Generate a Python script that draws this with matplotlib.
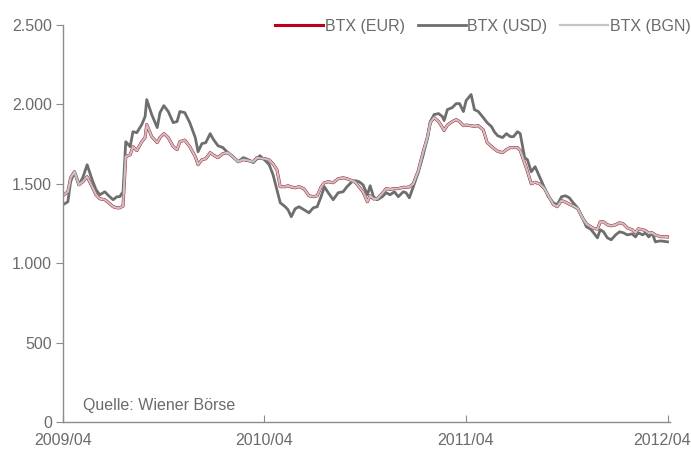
import matplotlib
matplotlib.use("Agg")
import matplotlib.pyplot as plt
import matplotlib.transforms as mtransforms
import pandas as pd

plt.rcParams['font.family'] = ['Liberation Sans', 'DejaVu Sans']

# weekly closes
dates = [
    "2009-04-01", "2009-04-10", "2009-04-15", "2009-04-22", "2009-04-30", "2009-05-07",
    "2009-05-15", "2009-05-24", "2009-05-31", "2009-06-07", "2009-06-16", "2009-06-23",
    "2009-07-01", "2009-07-08", "2009-07-13", "2009-07-19", "2009-07-24", "2009-08-01",
    "2009-08-06", "2009-08-13", "2009-08-22", "2009-08-28", "2009-08-31", "2009-09-09",
    "2009-09-19", "2009-09-24", "2009-10-01", "2009-10-09", "2009-10-18", "2009-10-25",
    "2009-10-30", "2009-11-08", "2009-11-17", "2009-11-27", "2009-12-02", "2009-12-09",
    "2009-12-16", "2009-12-24", "2009-12-29", "2010-01-07", "2010-01-16", "2010-01-25",
    "2010-02-03", "2010-02-13", "2010-02-22", "2010-03-03", "2010-03-12", "2010-03-19",
    "2010-03-24", "2010-04-03", "2010-04-10", "2010-04-17", "2010-04-24", "2010-04-30",
    "2010-05-09", "2010-05-14", "2010-05-20", "2010-05-27", "2010-06-03", "2010-06-12",
    "2010-06-21", "2010-06-29", "2010-07-06", "2010-07-13", "2010-07-19", "2010-07-26",
    "2010-08-04", "2010-08-13", "2010-08-22", "2010-08-29", "2010-09-07", "2010-09-13",
    "2010-09-20", "2010-09-27", "2010-10-05", "2010-10-10", "2010-10-16", "2010-10-23",
    "2010-11-01", "2010-11-08", "2010-11-15", "2010-11-23", "2010-11-30", "2010-12-09",
    "2010-12-14", "2010-12-20", "2010-12-27", "2011-01-05", "2011-01-14", "2011-01-22",
    "2011-01-27", "2011-02-03", "2011-02-11", "2011-02-18", "2011-02-21", "2011-02-27",
    "2011-03-08", "2011-03-15", "2011-03-21", "2011-03-28", "2011-04-02", "2011-04-11",
    "2011-04-17", "2011-04-24", "2011-05-03", "2011-05-10", "2011-05-18", "2011-05-23",
    "2011-05-29", "2011-06-07", "2011-06-14", "2011-06-21", "2011-06-27", "2011-07-04",
    "2011-07-09", "2011-07-17", "2011-07-22", "2011-07-29", "2011-08-05", "2011-08-13",
    "2011-08-22", "2011-08-29", "2011-09-07", "2011-09-14", "2011-09-22", "2011-09-29",
    "2011-10-06", "2011-10-13", "2011-10-21", "2011-10-30", "2011-11-06", "2011-11-13",
    "2011-11-19", "2011-11-26", "2011-12-01", "2011-12-07", "2011-12-14", "2011-12-21",
    "2011-12-29", "2012-01-05", "2012-01-12", "2012-01-19", "2012-01-28", "2012-02-03",
    "2012-02-08", "2012-02-16", "2012-02-21", "2012-02-27", "2012-03-04", "2012-03-10",
    "2012-03-19", "2012-04-01",
]

btx_usd = [
    1368, 1387, 1513, 1576, 1494, 1538, 1620, 1526, 1463, 1431, 1450, 1425,
    1400, 1419, 1419, 1450, 1765, 1734, 1828, 1822, 1873, 1923, 2030, 1936,
    1854, 1948, 1992, 1955, 1885, 1892, 1955, 1948, 1885, 1791, 1702, 1753,
    1759, 1816, 1784, 1740, 1728, 1696, 1671, 1639, 1665, 1652, 1633, 1658,
    1677, 1646, 1620, 1557, 1463, 1381, 1356, 1337, 1293, 1343, 1356, 1337,
    1318, 1349, 1356, 1419, 1482, 1444, 1400, 1444, 1450, 1482, 1513, 1520,
    1513, 1494, 1431, 1488, 1419, 1400, 1419, 1444, 1431, 1450, 1419, 1450,
    1444, 1412, 1480, 1570, 1680, 1790, 1892, 1936, 1942, 1923, 1898, 1967,
    1980, 2005, 2005, 1955, 2024, 2062, 1967, 1955, 1917, 1885, 1860, 1828,
    1803, 1791, 1816, 1797, 1797, 1828, 1816, 1665, 1652, 1576, 1608, 1545,
    1475, 1419, 1381, 1368, 1419, 1425, 1412, 1381, 1349, 1286, 1229, 1217,
    1192, 1160, 1211, 1198, 1160, 1148, 1179, 1198, 1192, 1179, 1185, 1166,
    1192, 1179, 1192, 1166, 1192, 1135, 1141, 1135,
]

btx_eur = [
    1425, 1450, 1538, 1576, 1494, 1513, 1545, 1482, 1431, 1406, 1400, 1381,
    1356, 1349, 1349, 1360, 1671, 1683, 1734, 1709, 1765, 1791, 1873, 1797,
    1759, 1791, 1816, 1791, 1734, 1715, 1765, 1775, 1734, 1671, 1620, 1652,
    1658, 1696, 1683, 1665, 1690, 1696, 1671, 1639, 1652, 1646, 1639, 1665,
    1660, 1658, 1650, 1625, 1589, 1482, 1482, 1488, 1480, 1475, 1482, 1469,
    1425, 1419, 1425, 1480, 1507, 1513, 1507, 1532, 1538, 1532, 1520, 1510,
    1480, 1450, 1387, 1425, 1405, 1406, 1440, 1470, 1465, 1470, 1470, 1478,
    1478, 1480, 1500, 1580, 1700, 1797, 1885, 1917, 1892, 1855, 1835, 1870,
    1892, 1904, 1892, 1866, 1870, 1865, 1862, 1866, 1840, 1760, 1735, 1720,
    1705, 1696, 1715, 1728, 1728, 1728, 1710, 1630, 1580, 1500, 1510, 1500,
    1470, 1425, 1370, 1356, 1395, 1385, 1372, 1360, 1345, 1285, 1248, 1232,
    1220, 1215, 1261, 1261, 1242, 1236, 1242, 1255, 1248, 1223, 1211, 1192,
    1217, 1211, 1206, 1190, 1192, 1178, 1168, 1166,
]

# BGN is pegged to the EUR, so the index line sits on top of the EUR one
btx_bgn = list(btx_eur)

x_ticks = ["2009-04-01", "2010-04-01", "2011-04-01", "2012-04-01"]
x_labels = ["2009/04", "2010/04", "2011/04", "2012/04"]
y_ticks = [0, 500, 1000, 1500, 2000, 2500]
y_labels = ["0", "500", "1.000", "1.500", "2.000", "2.500"]

grey_text = "#6b6b6b"
axis_col = "#8c8c8c"
fs = 11.5

d = pd.to_datetime(dates)

fig = plt.figure(figsize=(6.91, 4.53), dpi=100)
ax = fig.add_axes([0.091, 0.068, 0.879, 0.877])

ax.plot(d, btx_eur, color="#c0001a", lw=2.2, label="BTX (EUR)")
ax.plot(d, btx_usd, color="#6e6e6e", lw=2.0, label="BTX (USD)")
ax.plot(d, btx_bgn, color="#c4c4c4", lw=1.6, label="BTX (BGN)")

ax.set_ylim(0, 2500)
ax.set_xlim(pd.Timestamp("2009-04-01"), pd.Timestamp("2012-04-06"))
ax.set_yticks(y_ticks)
ax.set_yticklabels(y_labels)
ax.set_xticks(pd.to_datetime(x_ticks))
ax.set_xticklabels(x_labels)

for s in ["top", "right"]:
    ax.spines[s].set_visible(False)
for s in ["left", "bottom"]:
    ax.spines[s].set_color(axis_col)
    ax.spines[s].set_linewidth(1.0)

ax.tick_params(axis="y", direction="out", length=5, color=axis_col,
               labelcolor=grey_text, labelsize=fs, pad=3)
ax.tick_params(axis="x", direction="in", length=5, color=axis_col,
               labelcolor=grey_text, labelsize=fs, pad=8)

# keep the last date label inside the picture
last = ax.get_xticklabels()[-1]
last.set_transform(last.get_transform() +
                   mtransforms.ScaledTranslation(-4 / 72, 0, fig.dpi_scale_trans))

ax.text(0.033, 0.030, "Quelle: Wiener Börse", transform=ax.transAxes,
        color=grey_text, fontsize=fs)

leg = fig.legend(loc="upper right", bbox_to_anchor=(0.999, 0.958), ncol=3,
                 frameon=False, fontsize=fs, handlelength=3.0,
                 handletextpad=0.1, columnspacing=0.8,
                 borderpad=0, borderaxespad=0)
for t in leg.get_texts():
    t.set_color(grey_text)

fig.savefig("out.png", dpi=100)
